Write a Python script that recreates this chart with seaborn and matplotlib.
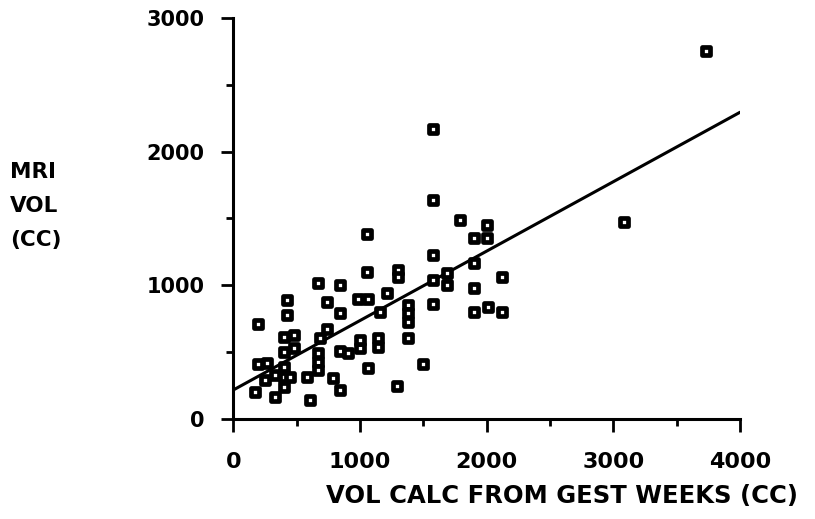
import numpy as np
import pandas as pd
import matplotlib
matplotlib.use("Agg")
import matplotlib.pyplot as plt
import seaborn as sns
from matplotlib.ticker import MultipleLocator

# valores (cc)
gest_vol = [193, 190, 264, 171, 329, 250, 329, 395, 395, 447,
            395, 395, 474, 395, 474, 426, 426, 579, 605, 671,
            671, 671, 684, 737, 737, 671, 789, 842, 842, 908,
            842, 842, 1000, 1053, 1066, 987, 1000, 1145, 1145, 1066,
            1158, 1216, 1302, 1302, 1290, 1381, 1381, 1381, 1381, 1495,
            1574, 1574, 1574, 1579, 1574, 1684, 1684, 1789, 1902, 2005,
            2005, 1902, 1902, 1902, 2013, 2118, 2118, 3086, 3733, 1053]
mri_vol = [708, 410, 413, 201, 163, 288, 326, 388, 313, 313,
           238, 500, 526, 613, 625, 888, 775, 313, 139, 488,
           425, 363, 601, 668, 875, 1013, 301, 213, 508, 488,
           1000, 793, 526, 1100, 893, 893, 588, 600, 538, 376,
           800, 943, 1112, 1062, 243, 850, 788, 725, 600, 408,
           2166, 1637, 1225, 1037, 858, 1088, 1000, 1487, 1350, 1350,
           1449, 1163, 975, 800, 838, 795, 1062, 1470, 2753, 1383]

# recta de regresion (extremos leidos)
fit_x = [0, 4000]
fit_y = [215, 2295]

df = pd.DataFrame({"gest": gest_vol, "mri": mri_vol})

sns.set_style("ticks")
plt.rcParams["font.family"] = ["DejaVu Sans"]
plt.rcParams["font.weight"] = "bold"
plt.rcParams["text.color"] = "black"
plt.rcParams["xtick.color"] = "black"
plt.rcParams["ytick.color"] = "black"
plt.rcParams["axes.edgecolor"] = "black"

fig = plt.figure(figsize=(8.15, 5.19), dpi=100)
ax = fig.add_axes([0.2865, 0.1935, 0.6215, 0.7715])

ax.plot(fit_x, fit_y, color="black", lw=2.2, zorder=2)
sns.scatterplot(data=df, x="gest", y="mri", ax=ax, marker="s", s=30,
                facecolor="white", edgecolor="black", linewidth=3.4, zorder=3)

ax.set_xlim(0, 4000)
ax.set_ylim(0, 3000)
ax.xaxis.set_major_locator(MultipleLocator(1000))
ax.xaxis.set_minor_locator(MultipleLocator(500))
ax.yaxis.set_major_locator(MultipleLocator(1000))
ax.yaxis.set_minor_locator(MultipleLocator(500))
ax.tick_params(which="major", length=9, width=2, labelsize=16,
               colors="black")
ax.tick_params(which="minor", length=5, width=2, colors="black")
ax.tick_params(axis="x", which="major", pad=15)
ax.tick_params(axis="y", which="major", pad=12, labelsize=15)
for lab in ax.get_xticklabels() + ax.get_yticklabels():
    lab.set_fontweight("bold")

for side in ["top", "right"]:
    ax.spines[side].set_visible(False)
for side in ["left", "bottom"]:
    ax.spines[side].set_linewidth(2.2)
    ax.spines[side].set_color("black")

ax.set_xlabel("")
ax.set_ylabel("")
fig.text(0.690, 0.044, "VOL CALC FROM GEST WEEKS (CC)", ha="center", va="center",
         fontsize=17.5, fontweight="bold", color="black")
fig.text(0.012, 0.603, "MRI\nVOL\n(CC)", ha="left", va="center",
         fontsize=15.5, fontweight="bold", linespacing=1.85, color="black")

fig.savefig("out.png", dpi=100)
